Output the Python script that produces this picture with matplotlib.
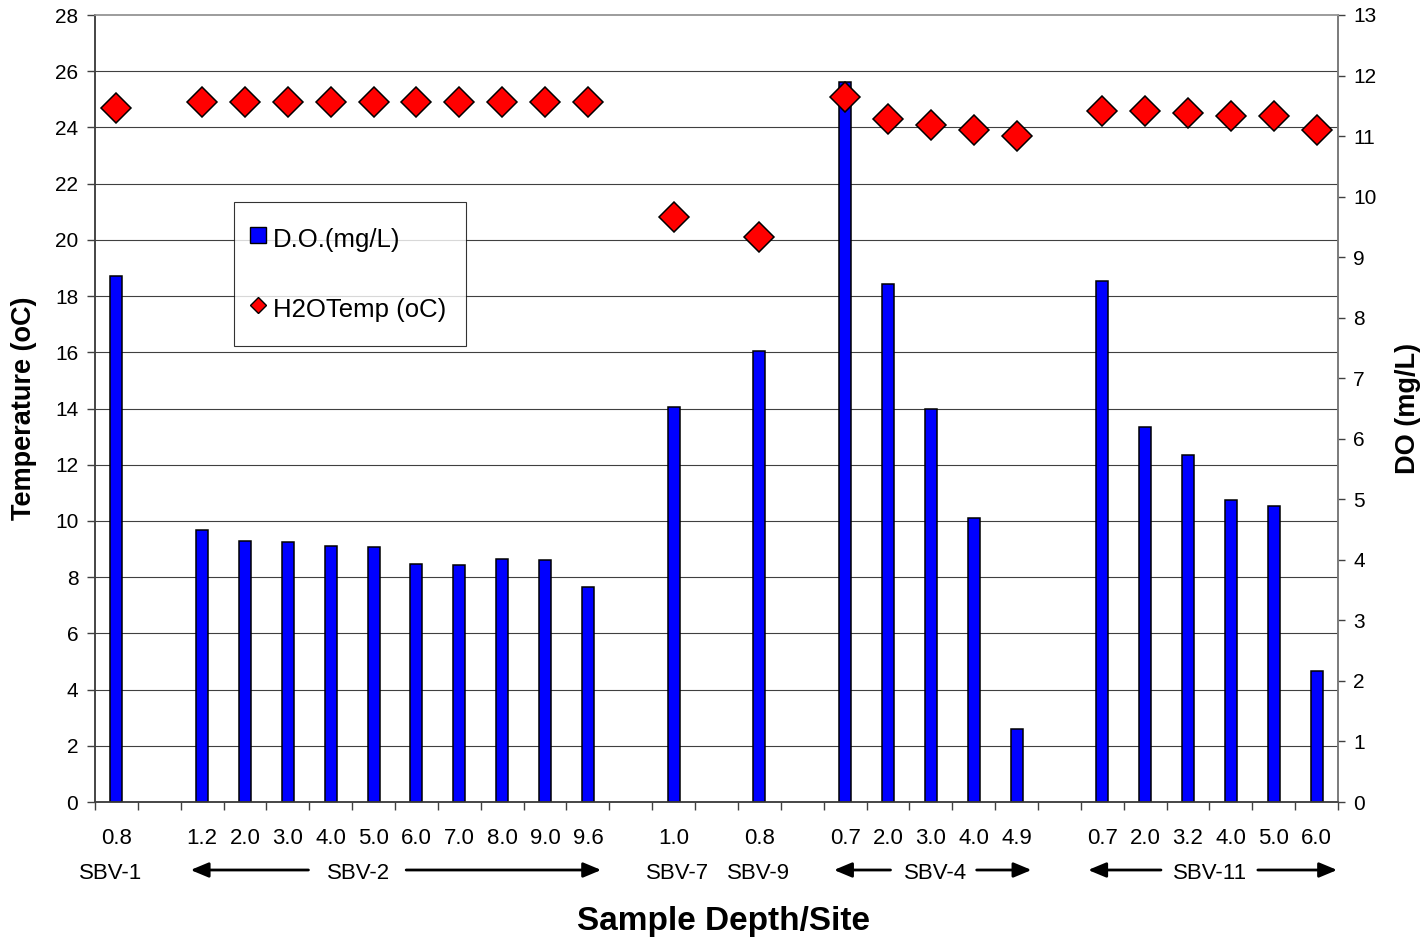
import numpy as np
import matplotlib
matplotlib.use('Agg')
import matplotlib.pyplot as plt
from matplotlib.lines import Line2D

plt.rcParams['font.family'] = ['Liberation Sans', 'DejaVu Sans']

nan = np.nan

# one slot per sample, empty slots separate the sites
depths = ['0.8', '', '1.2', '2.0', '3.0', '4.0', '5.0', '6.0', '7.0', '8.0', '9.0', '9.6',
          '', '1.0', '', '0.8', '', '0.7', '2.0', '3.0', '4.0', '4.9',
          '', '0.7', '2.0', '3.2', '4.0', '5.0', '6.0']
do_mgl = [8.69, nan, 4.50, 4.31, 4.29, 4.23, 4.22, 3.93, 3.92, 4.01, 3.99, 3.55,
          nan, 6.52, nan, 7.45, nan, 11.90, 8.56, 6.50, 4.69, 1.20,
          nan, 8.61, 6.20, 5.74, 4.99, 4.89, 2.16]
temp_c = [24.7, nan, 24.9, 24.9, 24.9, 24.9, 24.9, 24.9, 24.9, 24.9, 24.9, 24.9,
          nan, 20.8, nan, 20.1, nan, 25.1, 24.3, 24.1, 23.9, 23.7,
          nan, 24.6, 24.6, 24.5, 24.4, 24.4, 23.9]
sites = ['SBV-1', 'SBV-2', 'SBV-7', 'SBV-9', 'SBV-4', 'SBV-11']

# layout of the site row (x in slot units)
site_x = [-0.13, 5.64, 13.08, 14.99, 19.10, 25.51]
arrows = [(4.48, 1.73), (6.76, 11.31), (18.06, 16.74), (20.07, 21.35),
          (24.37, 22.67), (26.63, 28.48)]

x = np.arange(len(depths))
do_arr = np.array(do_mgl)
t_arr = np.array(temp_c)
has_do = ~np.isnan(do_arr)
has_t = ~np.isnan(t_arr)

fig = plt.figure(figsize=(14.25, 9.43), dpi=100)
ax_do = fig.add_axes([95/1425, 1 - 802/943, 1243/1425, 787/943])
ax_t = ax_do.twinx()

# bars (DO, right scale)
ax_do.bar(x[has_do], do_arr[has_do], width=0.28, color='#0000FF',
          edgecolor='black', linewidth=1.1, zorder=3)
ax_do.set_ylim(0, 13)
ax_do.set_yticks(np.arange(0, 14, 1))
ax_do.yaxis.tick_right()
ax_do.yaxis.set_label_position('right')
# horizontal grid follows the temperature ticks, kept behind the bars
ax_do.set_yticks(np.arange(0, 29, 2) * 13 / 28, minor=True)
ax_do.yaxis.grid(True, which='minor', color='#404040', linewidth=0.8, zorder=0)
ax_do.tick_params(axis='y', which='minor', length=0)
ax_do.tick_params(axis='y', which='major', direction='out', length=5, width=1,
                  color='#404040', labelsize=15, pad=6)

# diamonds (temperature, left scale)
ax_t.plot(x[has_t], t_arr[has_t], linestyle='none', marker='D', markersize=15,
          markerfacecolor='#FF0000', markeredgecolor='black', markeredgewidth=1.1,
          clip_on=False, zorder=4)
ax_t.set_ylim(0, 28)
ax_t.set_yticks(np.arange(0, 29, 2))
ax_t.yaxis.tick_left()
ax_t.yaxis.set_label_position('left')
ax_t.tick_params(axis='y', direction='out', length=6, width=1, color='#404040',
                 labelsize=15, pad=6)

# x axis: labels at slot centres, tick marks between slots
ax_do.set_xlim(-0.5, len(depths) - 0.5)
ax_do.set_xticks(x)
ax_do.set_xticklabels(depths)
ax_do.set_xticks(np.arange(-0.5, len(depths), 1), minor=True)
ax_do.tick_params(axis='x', which='major', length=0, labelsize=16, pad=19)
ax_do.tick_params(axis='x', which='minor', direction='out', length=5.5, width=1,
                  color='#404040')

for ax in (ax_do, ax_t):
    ax.spines['left'].set_color('#404040')
    ax.spines['bottom'].set_color('#404040')
    ax.spines['top'].set_color('#999999')
    ax.spines['right'].set_color('#777777')
    for s in ax.spines.values():
        s.set_linewidth(1.1)

# site names and arrows under the depths
tr = ax_do.get_xaxis_transform()
for name, sx in zip(sites, site_x):
    ax_do.text(sx, -0.0978, name, transform=tr, ha='center', va='baseline', fontsize=16)
for tail, tip in arrows:
    ax_do.annotate('', xy=(tip, -0.0864), xytext=(tail, -0.0864), xycoords=tr,
                   textcoords=tr, annotation_clip=False,
                   arrowprops=dict(arrowstyle='-|>,head_length=0.6,head_width=0.25',
                                   mutation_scale=18, lw=2, color='black',
                                   shrinkA=0, shrinkB=0))

ax_do.set_xlabel('Sample Depth/Site', fontsize=24, fontweight='bold', va='baseline')
ax_do.xaxis.set_label_coords(0.506, -0.1626)
ax_t.set_ylabel('Temperature (oC)', fontsize=19.5, fontweight='bold', va='center')
ax_t.yaxis.set_label_coords(-0.0571, 0.5)
ax_do.set_ylabel('DO (mg/L)', fontsize=19.5, fontweight='bold', va='center')
ax_do.yaxis.set_label_coords(1.0563, 0.5)

handles = [Line2D([], [], linestyle='none', marker='s', markersize=11.5,
                  markerfacecolor='#0000FF', markeredgecolor='black', markeredgewidth=1),
           Line2D([], [], linestyle='none', marker='D', markersize=8.5,
                  markerfacecolor='#FF0000', markeredgecolor='black', markeredgewidth=1)]
leg = ax_t.legend(handles, ['D.O.(mg/L)', 'H2OTemp (oC)'], loc='upper left',
                  bbox_to_anchor=((234 - 95) / 1243, (802 - 202) / 787),
                  borderaxespad=0, fontsize=18.5, frameon=True, fancybox=False,
                  borderpad=0.8, handlelength=0.3, handleheight=1.6,
                  handletextpad=0.4, labelspacing=1.43)
leg.get_frame().set_edgecolor('black')
leg.get_frame().set_linewidth(0.8)

fig.savefig('out.png', dpi=100)
